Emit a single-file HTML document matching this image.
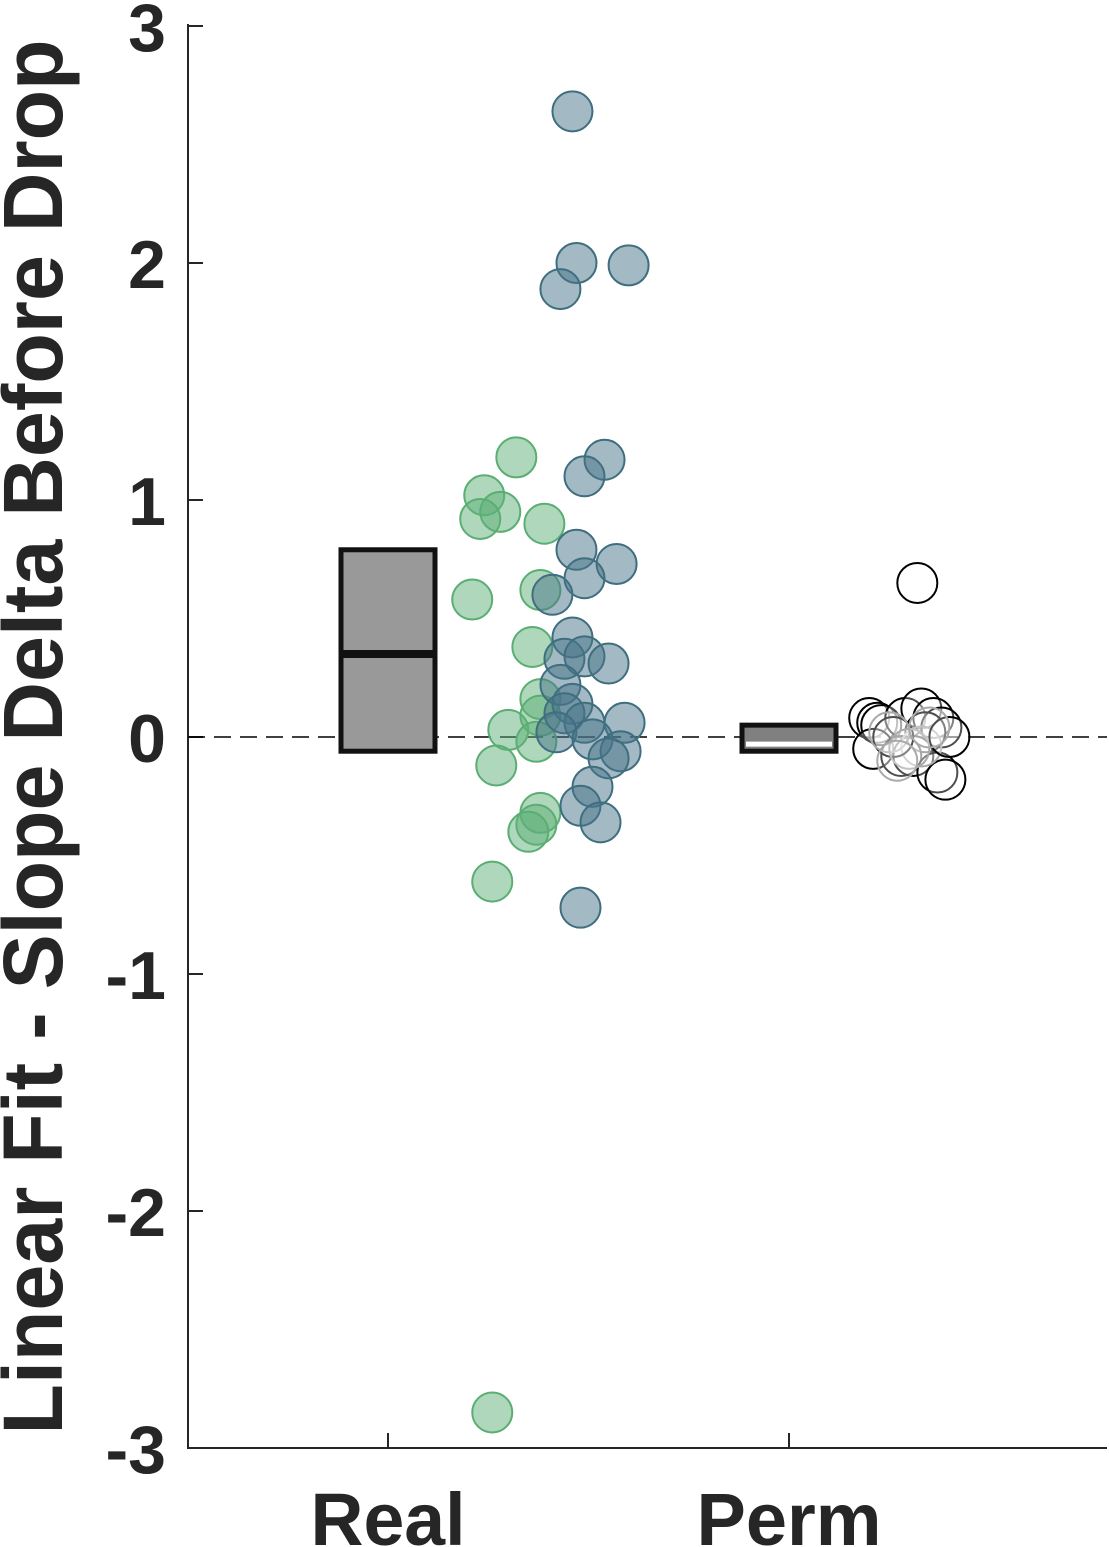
<!DOCTYPE html>
<html><head><meta charset="utf-8"><style>
html,body{margin:0;padding:0;background:#fff}
svg{display:block;font-family:"Liberation Sans",sans-serif}
</style></head><body>
<svg id="chart" width="1109" height="1547" viewBox="0 0 1109 1547" xmlns="http://www.w3.org/2000/svg">
<g id="axes"></g>
<g id="marks"></g>
<text transform="translate(62,737) rotate(-90)" text-anchor="middle" font-size="84" font-weight="bold" fill="#262626" textLength="1395" lengthAdjust="spacingAndGlyphs">Linear Fit - Slope Delta Before Drop</text>
</svg>
<script>
const yTicks=[-3,-2,-1,0,1,2,3];
const yTickLabels=["-3","-2","-1","0","1","2","3"];
const categories=["Real","Perm"];
// boxes: [low, median, high]
const realBox=[-0.06,0.35,0.79];
const permBox=[-0.06,-0.03,0.05];
const greenX=[0.32,0.24,0.28,0.23,0.39,0.21,0.38,0.36,0.38,0.38,0.30,0.37,0.27,0.38,0.37,0.35,0.26,0.26];
const greenY=[1.18,1.02,0.95,0.92,0.90,0.58,0.62,0.38,0.16,0.09,0.03,-0.02,-0.12,-0.32,-0.37,-0.40,-0.61,-2.85];
const blueX=[0.46,0.47,0.60,0.43,0.54,0.49,0.47,0.57,0.49,0.41,0.46,0.44,0.49,0.55,0.43,0.46,0.44,0.49,0.59,0.42,0.51,0.58,0.55,0.51,0.48,0.53,0.48];
const blueY=[2.64,2.0,1.99,1.89,1.17,1.10,0.79,0.73,0.67,0.60,0.42,0.33,0.34,0.31,0.22,0.14,0.10,0.06,0.06,0.02,-0.01,-0.06,-0.09,-0.21,-0.29,-0.36,-0.72];
const permX=[0.32,0.20,0.22,0.23,0.29,0.33,0.36,0.38,0.34,0.21,0.28,0.31,0.37,0.39,0.33,0.26,0.40,0.25,0.30,0.35,0.27];
const permY=[0.65,0.08,0.06,0.05,0.08,0.12,0.08,0.04,0.02,-0.05,-0.08,-0.08,-0.15,-0.18,-0.04,0.0,0.0,0.02,-0.05,0.04,-0.1];
const permGray=[0,0,0,0,0,0,0,0,0,0,0,0,0,0,1,0,0,1,1,1,1];

const NS="http://www.w3.org/2000/svg";
const yS=v=>737-v*237;
const xS=i=>388+i*401;
const axes=document.getElementById('axes'), marks=document.getElementById('marks');
function mk(tag,attrs,parent){const e=document.createElementNS(NS,tag);for(const k in attrs)e.setAttribute(k,attrs[k]);parent.appendChild(e);return e;}
let l=mk('line',{x1:188,y1:1448,x2:1107,y2:1448,stroke:'#262626','stroke-width':2},axes);


l=mk('line',{x1:188,y1:24,x2:188,y2:1449,stroke:'#262626','stroke-width':2},axes);


yTicks.forEach((v,i)=>{
  let t=mk('line',{x1:188,x2:203,y1:yS(v),y2:yS(v),stroke:'#262626','stroke-width':2},axes);
  
  
  let tx=mk('text',{x:166,y:yS(v)+25,'text-anchor':'end','font-size':68,'font-weight':'bold',fill:'#262626'},axes);
  tx.textContent=yTickLabels[i];
  
  
});
const xLabelW=[155,185];
categories.forEach((c,i)=>{
  let t=mk('line',{x1:xS(i),x2:xS(i),y1:1448,y2:1433,stroke:'#262626','stroke-width':2},axes);
  
  
  let tx=mk('text',{x:xS(i),y:1545,'text-anchor':'middle','font-size':74,'font-weight':'bold',fill:'#262626',textLength:xLabelW[i],lengthAdjust:'spacingAndGlyphs'},axes);
  tx.textContent=c;
  
  
});
let z=mk('line',{x1:188,x2:1107,y1:yS(0),y2:yS(0),stroke:'#000','stroke-width':1.6,'stroke-dasharray':'17 9'},marks);


function box(b,i,fill,medColor,name){
  const x0=xS(i)-47,w=94;
  let r=mk('rect',{x:x0,y:yS(b[2]),width:w,height:yS(b[0])-yS(b[2]),fill:fill,stroke:'#111','stroke-width':5},marks);
  
  
  let m=mk('line',{x1:x0+(medColor=='#fff'?4:0),x2:x0+w-(medColor=='#fff'?4:0),y1:yS(b[1]),y2:yS(b[1]),stroke:medColor,'stroke-width':medColor=='#fff'?5:8},marks);
  
  
}
box(realBox,0,'#999','#111','real-box');
box(permBox,1,'#808080','#fff','perm-box');
greenX.forEach((dx,k)=>{
  let c=mk('circle',{cx:xS(dx),cy:yS(greenY[k]),r:20,fill:'rgba(94,176,120,0.5)',stroke:'#5aae72','stroke-width':2},marks);
  
  
});
blueX.forEach((dx,k)=>{
  let c=mk('circle',{cx:xS(dx),cy:yS(blueY[k]),r:20,fill:'rgba(71,116,136,0.5)',stroke:'#3f6e80','stroke-width':2},marks);
  
  
});
permX.forEach((dx,k)=>{
  let c=mk('circle',{cx:xS(1+dx),cy:yS(permY[k]),r:20,fill:'rgba(255,255,255,0.3)',stroke:permGray[k]?'#aaa':'#000','stroke-width':2},marks);
  
  
});
</script>
</body></html>
